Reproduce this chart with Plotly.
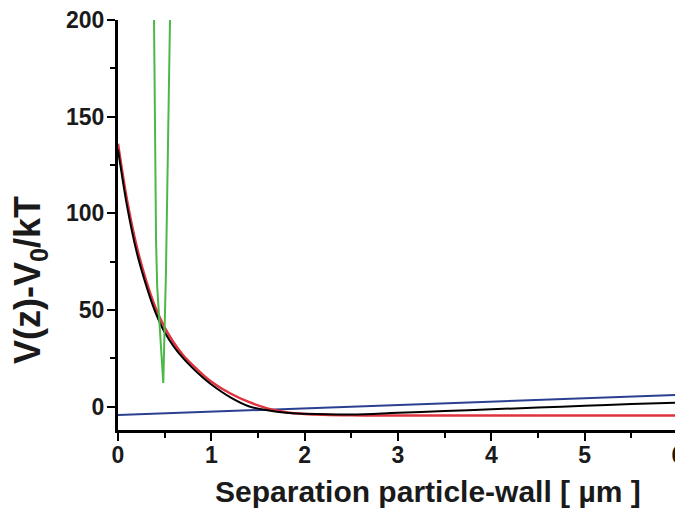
import plotly.graph_objects as go

# Data
x_black = [0, 0.1, 0.2, 0.3, 0.4, 0.5, 0.6, 0.7, 0.8, 0.9, 1.0, 1.2, 1.4, 1.6, 1.8, 2.0, 2.5, 3.0, 3.5, 4.0, 4.5, 5.0, 5.5, 6.0]
y_black = [133, 103, 80, 63, 49, 38.5, 31, 25, 20, 15.5, 11.5, 5.0, 0.3, -1.8, -3.1, -3.6, -4.0, -3.1, -2.2, -1.3, -0.4, 0.5, 1.4, 2.2]

x_red = [0, 0.1, 0.2, 0.3, 0.4, 0.5, 0.6, 0.7, 0.8, 0.9, 1.0, 1.2, 1.4, 1.6, 1.8, 2.0, 2.5, 3.0, 4.0, 5.0, 6.0]
y_red = [136, 106, 83, 65.5, 51.5, 41, 33, 26.5, 21.5, 17, 13, 7, 2.5, -0.8, -2.8, -3.7, -4.4, -4.5, -4.5, -4.5, -4.5]

x_blue = [0, 6]
y_blue = [-4.3, 6.2]

x_green = [0.386, 0.398, 0.408, 0.42, 0.45, 0.485, 0.514, 0.557]
y_green = [200, 130, 85, 62, 40, 12.3, 70, 200]

x_ticks = [0, 1, 2, 3, 4, 5, 6]
y_ticks = [0, 50, 100, 150, 200]

fig = go.Figure()
fig.add_trace(go.Scatter(x=x_blue, y=y_blue, mode="lines", line=dict(color="#2a3f8f", width=2)))
fig.add_trace(go.Scatter(x=x_red, y=y_red, mode="lines", line=dict(color="#e0323c", width=2.5, shape="spline")))
fig.add_trace(go.Scatter(x=x_black, y=y_black, mode="lines", line=dict(color="#000000", width=2, shape="spline")))
fig.add_trace(go.Scatter(x=x_green, y=y_green, mode="lines", line=dict(color="#4cb848", width=2)))

tickfont = dict(family="Liberation Sans", size=23, color="#1a1a1a", weight="bold")

fig.update_layout(
    width=675, height=503,
    margin=dict(l=110, r=5, t=12, b=81),
    paper_bgcolor="white", plot_bgcolor="white",
    showlegend=False,
    xaxis=dict(range=[0, 6], tickvals=x_ticks, ticks="outside", ticklen=8, tickwidth=2,
               tickcolor="black", showline=True, linecolor="black", linewidth=3,
               showgrid=False, zeroline=False, tickfont=tickfont, automargin=False,
               ticklabeloverflow="allow", ticklabelstandoff=-6,
               minor=dict(dtick=0.5, ticks="outside", ticklen=5, tickwidth=2, tickcolor="black", showgrid=False)),
    yaxis=dict(range=[-12, 200], tickvals=y_ticks, ticks="outside", ticklen=8, tickwidth=2,
               tickcolor="black", showline=True, linecolor="black", linewidth=3,
               showgrid=False, zeroline=False, tickfont=tickfont, automargin=False,
               ticklabeloverflow="allow", ticklabelstandoff=-2,
               minor=dict(dtick=25, tick0=0, ticks="outside", ticklen=5, tickwidth=2, tickcolor="black", showgrid=False)),
)

fig.add_annotation(text="Separation particle-wall [ µm ]", xref="paper", yref="paper",
                   x=(428 - 118) / 560, y=-(492 - 430) / 410, xanchor="center", yanchor="middle",
                   showarrow=False, font=dict(family="Liberation Sans", size=30, color="#1a1a1a", weight="bold"))
fig.add_annotation(text="V(z)-V<sub>0</sub>/kT", xref="paper", yref="paper",
                   x=-(118 - 30) / 560, y=(430 - 280) / 410, xanchor="center", yanchor="middle",
                   textangle=-90, showarrow=False,
                   font=dict(family="Liberation Sans", size=36, color="#1a1a1a", weight="bold"))

fig.write_html("out.html")
